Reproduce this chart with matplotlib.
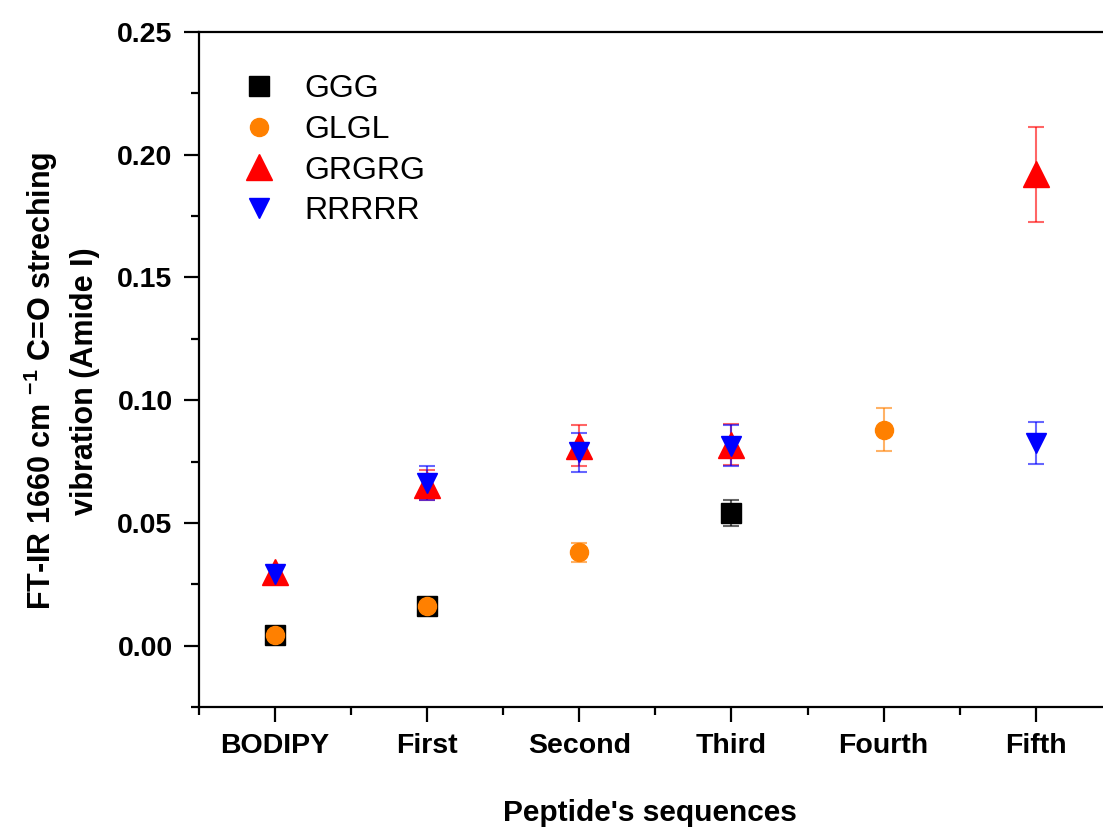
import matplotlib
matplotlib.use('Agg')
import matplotlib.pyplot as plt
import numpy as np

plt.rcParams['font.family'] = ['Liberation Sans', 'DejaVu Sans']
plt.rcParams['mathtext.fontset'] = 'custom'
plt.rcParams['mathtext.bf'] = 'Liberation Sans:bold'
plt.rcParams['mathtext.rm'] = 'Liberation Sans'

categories = ['BODIPY', 'First', 'Second', 'Third', 'Fourth', 'Fifth']

# indices into categories, values and errors for each series
ggg_x = [0, 1, 3]
ggg_y = [0.0045, 0.016, 0.054]
ggg_err = [0.001, 0.0, 0.0053]

glgl_x = [0, 1, 2, 4]
glgl_y = [0.0045, 0.016, 0.038, 0.088]
glgl_err = [0.001, 0.0, 0.0039, 0.0087]

grgrg_x = [0, 1, 2, 3, 5]
grgrg_y = [0.0300, 0.0655, 0.0815, 0.0818, 0.192]
grgrg_err = [0.0025, 0.0060, 0.0085, 0.0083, 0.0193]

rrrrr_x = [0, 1, 2, 3, 5]
rrrrr_y = [0.0292, 0.0662, 0.0788, 0.0815, 0.0825]
rrrrr_err = [0.0030, 0.0068, 0.0080, 0.0083, 0.0085]

fig = plt.figure(figsize=(11.03, 8.27), dpi=100)
ax = fig.add_axes([0.1804, 0.1451, 0.8276, 0.8162])

series = [
    ('GGG', ggg_x, ggg_y, ggg_err, 's', 'black', 14),
    ('GLGL', glgl_x, glgl_y, glgl_err, 'o', '#ff8000', 13),
    ('GRGRG', grgrg_x, grgrg_y, grgrg_err, '^', 'red', 19),
    ('RRRRR', rrrrr_x, rrrrr_y, rrrrr_err, 'v', 'blue', 15),
]

for name, xs, ys, errs, mk, col, ms in series:
    eb = ax.errorbar(xs, ys, yerr=errs, fmt=mk, color=col, ms=ms, mec=col,
                     ecolor=col, elinewidth=1.5, capsize=6, capthick=1.5,
                     label=name, zorder=3)
    for line in eb[1]:
        line.set_alpha(0.6)
    for line in eb[2]:
        line.set_alpha(0.6)

ax.set_xlim(-0.5, 5.5)
ax.set_ylim(-0.025, 0.25)
ax.set_xticks(range(len(categories)))
ax.set_xticklabels(categories)
ax.set_xticks(np.arange(-0.5, 5.6, 1.0), minor=True)
ax.set_yticks([0.0, 0.05, 0.10, 0.15, 0.20, 0.25])
ax.set_yticklabels(['0.00', '0.05', '0.10', '0.15', '0.20', '0.25'])
ax.set_yticks(np.arange(-0.025, 0.25, 0.05), minor=True)

for s in ax.spines.values():
    s.set_linewidth(1.6)
ax.tick_params(which='major', direction='out', length=11, width=1.6,
               labelsize=20.5, pad=8)
ax.tick_params(which='minor', direction='out', length=5.5, width=1.6)
ax.tick_params(top=False, right=False)
for lab in ax.get_xticklabels() + ax.get_yticklabels():
    lab.set_fontweight('bold')

ax.set_xlabel("Peptide's sequences", fontsize=21.5, fontweight='bold')
ax.xaxis.set_label_coords(0.494, -0.136)
ax.set_ylabel('FT-IR 1660 cm $^{\\mathbf{-1}}$ C=O streching\nvibration (Amide I)',
              fontsize=22, fontweight='bold', linespacing=1.45)
ax.yaxis.set_label_coords(-0.108, 0.483)

handles, labels = ax.get_legend_handles_labels()
handles = [h[0] for h in handles]
ax.legend(handles, labels, loc='upper left', bbox_to_anchor=(0.02, 0.975),
          frameon=False, fontsize=23, handletextpad=0.93, labelspacing=0.33,
          handlelength=1.0, borderpad=0.3, markerscale=1.0)

fig.savefig('out.png', dpi=100)
